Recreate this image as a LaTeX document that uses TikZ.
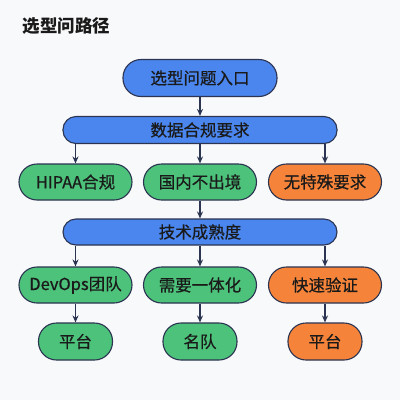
\documentclass[tikz,border=0pt]{standalone}
\usepackage{fontspec}
\setmainfont{Noto Sans CJK SC}
\newfontfamily\cjkfont[FakeBold=0.6]{Noto Sans CJK SC}
\usetikzlibrary{arrows.meta}
\definecolor{bgc}{HTML}{F8F9FB}
\definecolor{blu}{HTML}{4A86EE}
\definecolor{grn}{HTML}{4CC27A}
\definecolor{org}{HTML}{F5843A}
\definecolor{edg}{HTML}{2B3450}
\definecolor{txt}{HTML}{1A1A1A}
\tikzset{
  box/.style={draw=edg, line width=1.1pt, rounded corners=13pt, align=center,
    inner sep=0pt, text=txt, font=\cjkfont\fontsize{16.5}{19}\selectfont},
  bluebox/.style={box, fill=blu},
  greenbox/.style={box, fill=grn, rounded corners=18pt},
  orangebox/.style={box, fill=org, rounded corners=18pt},
  arr/.style={draw=edg, line width=1.3pt, -{Stealth[length=7pt,width=6pt]}},
}
\begin{document}
\begin{tikzpicture}[x=1pt,y=-1pt]
\useasboundingbox (0,0) rectangle (400,400);
\fill[bgc] (0,0) rectangle (400,400);
\node[anchor=west, text=txt, font=\setmainfont{Noto Sans CJK SC}\bfseries\fontsize{17.5}{20}\selectfont] (title) at (19,26) {选型问路径};
\node[bluebox, rounded corners=18pt, minimum width=154pt, minimum height=37pt] (n1) at (200,78) {选型问题入口};
\node[bluebox, minimum width=274pt, minimum height=27pt] (n2) at (200,130) {数据合规要求};
\node[greenbox, minimum width=113pt, minimum height=36pt] (a) at (75.5,182) {HIPAA合规};
\node[greenbox, minimum width=113pt, minimum height=36pt] (b) at (200,182) {国内不出境};
\node[orangebox, minimum width=113pt, minimum height=36pt] (c) at (325,182) {无特殊要求};
\node[bluebox, minimum width=274pt, minimum height=26pt] (n4) at (200,232) {技术成熟度};
\node[greenbox, minimum width=113pt, minimum height=36pt] (d) at (75.5,285) {DevOps团队};
\node[greenbox, minimum width=113pt, minimum height=36pt] (e) at (200,285) {需要一体化};
\node[orangebox, minimum width=113pt, minimum height=36pt] (f) at (325,285) {快速验证};
\node[greenbox, minimum width=74pt, minimum height=37pt] (g) at (75.5,341.5) {平台};
\node[greenbox, minimum width=74pt, minimum height=37pt] (h) at (200,341.5) {名队};
\node[orangebox, minimum width=74pt, minimum height=37pt] (i) at (325,341.5) {平台};
\draw[arr] (n1) -- (n2);
\draw[arr] (n2.south -| a) -- (a);
\draw[arr] (n2) -- (b);
\draw[arr] (n2.south -| c) -- (c);
\draw[arr] (b) -- (n4);
\draw[arr] (n4.south -| d) -- (d);
\draw[arr] (n4) -- (e);
\draw[arr] (n4.south -| f) -- (f);
\draw[arr] (d) -- (g);
\draw[arr] (e) -- (h);
\draw[arr] (f) -- (i);
\end{tikzpicture}
\end{document}
